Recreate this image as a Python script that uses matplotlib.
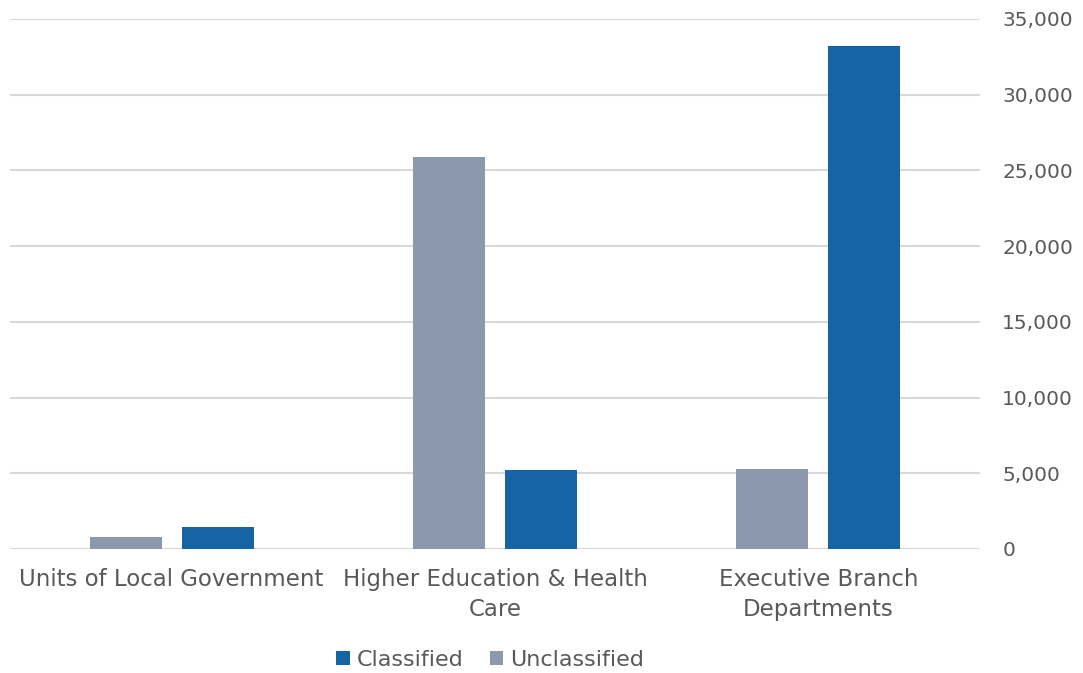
import numpy as np
import matplotlib
matplotlib.use("Agg")
import matplotlib.pyplot as plt
from matplotlib.ticker import FuncFormatter

categories = ["Units of Local Government", "Higher Education & Health\nCare", "Executive Branch\nDepartments"]
unclassified = [800, 25900, 5300]
classified = [1450, 5250, 33200]
yticks = [0, 5000, 10000, 15000, 20000, 25000, 30000, 35000]

gray = "#8C98AE"
blue = "#1764A5"
txt = "#595959"

plt.rcParams['font.family'] = ['DejaVu Sans']

fig = plt.figure(figsize=(10.83, 6.73), dpi=100)
ax = fig.add_axes([10/1083, 1-549/673, 970/1083, 530/673])

x = np.arange(len(categories))
w = 0.223
off = 0.142
ax.bar(x - off, unclassified, w, color=gray, label="Unclassified", zorder=3)
ax.bar(x + off, classified, w, color=blue, label="Classified", zorder=3)

ax.set_xlim(-0.5, 2.5)
ax.set_ylim(0, 35000)
ax.set_yticks(yticks)
ax.yaxis.set_major_formatter(FuncFormatter(lambda v, p: f"{int(v):,}"))
ax.yaxis.tick_right()
ax.tick_params(axis="y", length=0, pad=16, labelsize=14.5, labelcolor=txt)
ax.set_xticks(x)
ax.set_xticklabels(categories, linespacing=1.35)
ax.tick_params(axis="x", length=0, pad=14, labelsize=16.5, labelcolor=txt)
ax.grid(axis="y", color="#D9D9D9", linewidth=1.5, zorder=0)
for s in ax.spines.values():
    s.set_visible(False)

h, l = ax.get_legend_handles_labels()
fig.legend(h[::-1], l[::-1], loc="center", bbox_to_anchor=(490/1083, 1-660/673), ncol=2,
           frameon=False, fontsize=16, labelcolor=txt, handlelength=0.6, handleheight=0.6,
           handletextpad=0.3, columnspacing=1.2)

fig.savefig("out.png", dpi=100)
